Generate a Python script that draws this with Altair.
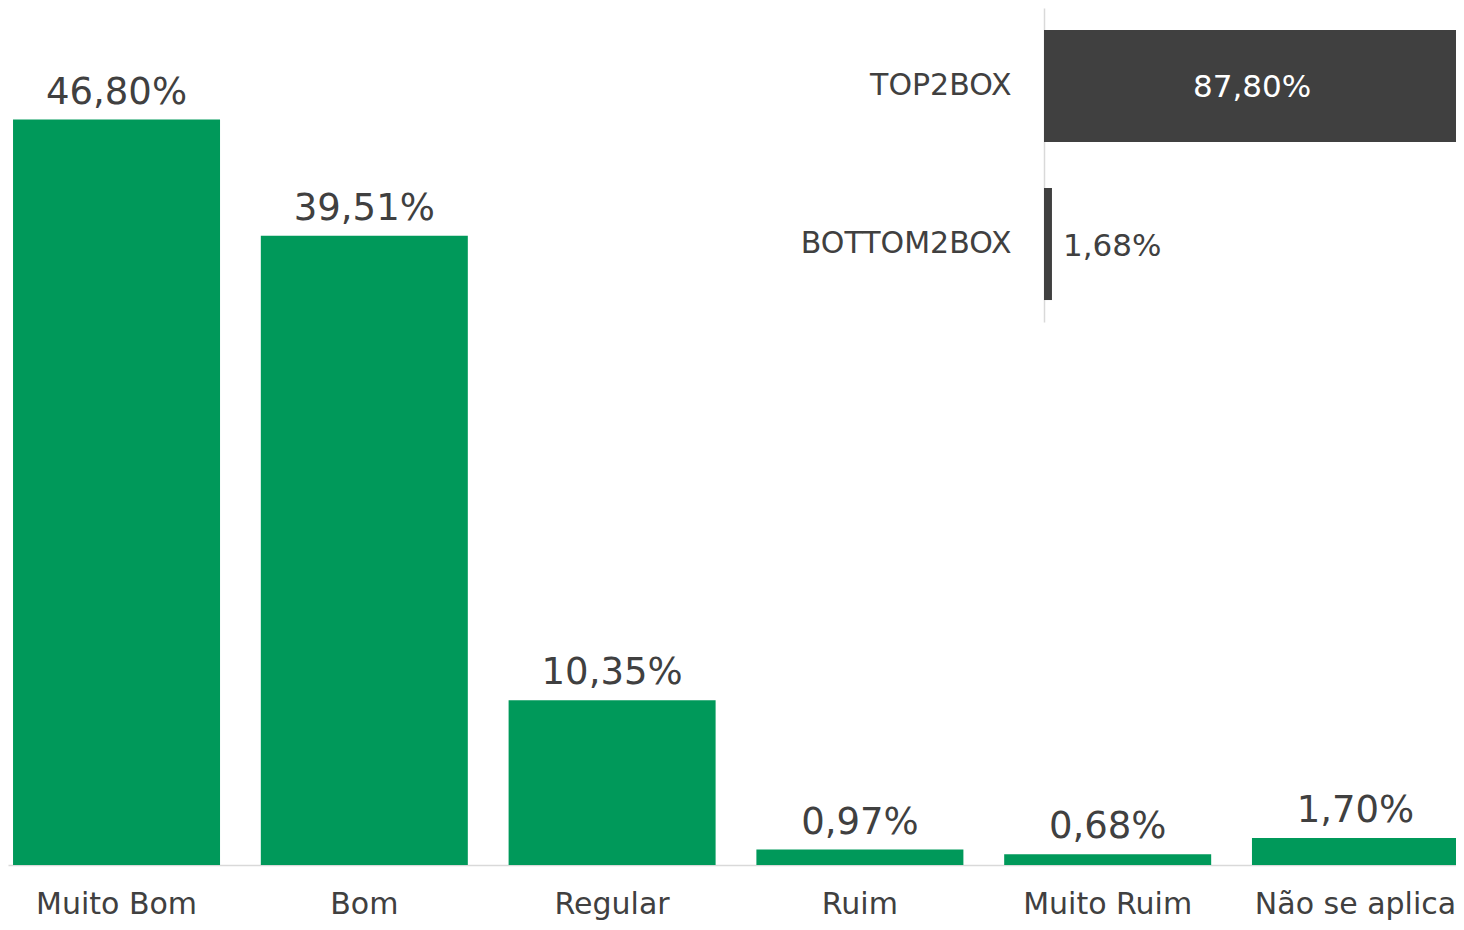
import altair as alt
import pandas as pd

categories = ["Muito Bom", "Bom", "Regular", "Ruim", "Muito Ruim", "Não se aplica"]
values = [46.80, 39.51, 10.35, 0.97, 0.68, 1.70]

box_labels = ["TOP2BOX", "BOTTOM2BOX"]
box_values = [87.80, 1.68]

GREEN = "#00995A"
DARK = "#404040"
FONT = "DejaVu Sans"

main_df = pd.DataFrame({"cat": categories, "value": values})
box_df = pd.DataFrame({"cat": box_labels, "value": box_values})

label_expr = "replace(format(datum.value, '.2f'), '.', ',') + '%'"

# ---- main vertical bar chart ----
x_main = alt.X(
    "cat:N",
    sort=None,
    scale=alt.Scale(range=[0, 1456], paddingInner=0.1646, paddingOuter=0.0203),
    axis=alt.Axis(
        title=None,
        ticks=False,
        domainColor="#d9d9d9",
        domainWidth=1.5,
        labelFontSize=30,
        labelColor=DARK,
        labelPadding=24,
        labelAngle=0,
        labelLimit=0,
        labelFont=FONT,
    ),
)
y_main = alt.Y(
    "value:Q",
    scale=alt.Scale(domain=[0, 53.8], nice=False, zero=True),
    axis=None,
)

main_base = alt.Chart(main_df).transform_calculate(label=label_expr)
main_bars = main_base.mark_bar(color=GREEN).encode(x=x_main, y=y_main)
main_text = main_base.mark_text(
    baseline="alphabetic", dy=-16, fontSize=37, color=DARK, font=FONT
).encode(x=x_main, y=y_main, text="label:N")
main_layer = alt.layer(main_bars, main_text)

# ---- inset horizontal bar chart ----
x_box = alt.X(
    "value:Q",
    scale=alt.Scale(domain=[0, 100], range=[1036, 1510], nice=False, zero=True),
    axis=None,
)
y_box = alt.Y(
    "cat:N",
    sort=None,
    scale=alt.Scale(range=[0, 314], paddingInner=0.291, paddingOuter=0.139),
    axis=alt.Axis(
        title=None,
        orient="left",
        offset=-1036,
        ticks=False,
        domainColor="#d9d9d9",
        domainWidth=1.5,
        labelFontSize=30,
        labelColor=DARK,
        labelPadding=33,
        labelLimit=0,
        labelFont=FONT,
    ),
)

box_base = alt.Chart(box_df).transform_calculate(label=label_expr, mid="datum.value / 2")
box_bars = box_base.mark_bar(color=DARK).encode(x=x_box, y=y_box)
box_text_in = box_base.transform_filter("datum.cat == 'TOP2BOX'").mark_text(
    align="center", baseline="middle", dy=2, fontSize=31, color="white", font=FONT
).encode(
    x=alt.X("mid:Q", scale=alt.Scale(domain=[0, 100], range=[1036, 1510], nice=False), axis=None),
    y=y_box,
    text="label:N",
)
box_text_out = box_base.transform_filter("datum.cat == 'BOTTOM2BOX'").mark_text(
    align="left", baseline="middle", dx=11, dy=3, fontSize=31, color=DARK, font=FONT
).encode(x=x_box, y=y_box, text="label:N")
box_layer = alt.layer(box_bars, box_text_in, box_text_out)

chart = (
    alt.layer(main_layer, box_layer)
    .resolve_scale(x="independent", y="independent")
    .properties(
        width=1448,
        height=857,
        autosize=alt.AutoSizeParams(type="none"),
        padding={"left": 0, "top": 0, "right": 0, "bottom": 57},
    )
    .configure(font=FONT)
    .configure_view(stroke=None)
)

chart.save("out.html", embed_options={"renderer": "svg", "actions": False})
